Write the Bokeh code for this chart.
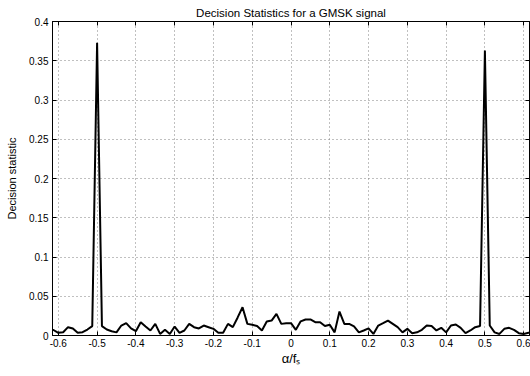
from bokeh.plotting import figure
from bokeh.models import FixedTicker, LinearAxis, Range1d
from bokeh.embed import file_html
from bokeh.resources import INLINE

# cyclic frequency alpha / fs
alpha = [-0.625, -0.6125, -0.6, -0.5875, -0.575, -0.5625, -0.55, -0.5375, -0.525, -0.5125,
         -0.5, -0.4875, -0.475, -0.4625, -0.45, -0.4375, -0.425, -0.4125, -0.4, -0.3875,
         -0.375, -0.3625, -0.35, -0.3375, -0.325, -0.3125, -0.3, -0.2875, -0.275, -0.2625,
         -0.25, -0.2375, -0.225, -0.2125, -0.2, -0.1875, -0.175, -0.1625, -0.15, -0.1375,
         -0.125, -0.1125, -0.1, -0.0875, -0.075, -0.0625, -0.05, -0.0375, -0.025, -0.0125,
         0.0, 0.0125, 0.025, 0.0375, 0.05, 0.0625, 0.075, 0.0875, 0.1, 0.1125,
         0.125, 0.1375, 0.15, 0.1625, 0.175, 0.1875, 0.2, 0.2125, 0.225, 0.2375,
         0.25, 0.2625, 0.275, 0.2875, 0.3, 0.3125, 0.325, 0.3375, 0.35, 0.3625,
         0.375, 0.3875, 0.4, 0.4125, 0.425, 0.4375, 0.45, 0.4625, 0.475, 0.4875,
         0.5, 0.5125, 0.525, 0.5375, 0.55, 0.5625, 0.575, 0.5875, 0.6, 0.6125, 0.625]

# decision statistic
stat = [0.008, 0.007, 0.0034, 0.0042, 0.0106, 0.009, 0.0034, 0.0042, 0.0076, 0.012,
        0.373, 0.012, 0.0076, 0.0055, 0.004, 0.0127, 0.0157, 0.009, 0.0055, 0.017,
        0.0115, 0.0064, 0.0148, 0.002, 0.0072, 0.002, 0.0114, 0.0034, 0.0064, 0.0148,
        0.0106, 0.009, 0.0127, 0.0106, 0.0085, 0.0034, 0.0034, 0.0148, 0.0106, 0.023,
        0.036, 0.0148, 0.0136, 0.012, 0.0064, 0.0178, 0.019, 0.0275, 0.0148, 0.0157,
        0.0157, 0.0072, 0.018, 0.0204, 0.0204, 0.017, 0.017, 0.012, 0.0136, 0.004,
        0.0305, 0.0148, 0.0148, 0.0115, 0.004, 0.0064, 0.009, 0.002, 0.0127, 0.0157,
        0.019, 0.0148, 0.0106, 0.004, 0.0085, 0.003, 0.004, 0.0072, 0.0127, 0.012,
        0.0064, 0.0098, 0.004, 0.0127, 0.014, 0.0098, 0.003, 0.0064, 0.0106, 0.012,
        0.363, 0.0127, 0.004, 0.002, 0.0085, 0.0098, 0.0072, 0.003, 0.002, 0.0034, 0.004]

x_ticks = [-0.6, -0.5, -0.4, -0.3, -0.2, -0.1, 0.0, 0.1, 0.2, 0.3, 0.4, 0.5, 0.6]
x_tick_labels = ["-0.6", "-0.5", "-0.4", "-0.3", "-0.2", "-0.1", "0", "0.1", "0.2", "0.3", "0.4", "0.5", "0.6"]
y_ticks = [0.0, 0.05, 0.1, 0.15, 0.2, 0.25, 0.3, 0.35, 0.4]
y_tick_labels = ["0", "0.05", "0.1", "0.15", "0.2", "0.25", "0.3", "0.35", "0.4"]

FONT = "Liberation Sans"

p = figure(width=530, height=376, output_backend="svg", toolbar_location=None,
           x_range=Range1d(-0.615, 0.615), y_range=Range1d(0, 0.4),
           min_border_left=52, min_border_right=1, min_border_top=21, min_border_bottom=41,
           title="Decision Statistics for a GMSK signal")
p.background_fill_color = "white"
p.border_fill_color = "white"
p.outline_line_color = "black"
p.outline_line_width = 1

p.title.text_font = FONT
p.title.text_font_size = "11.5px"
p.title.text_font_style = "normal"
p.title.text_color = "black"
p.title.align = "center"
p.title.standoff = 6

p.line(alpha, stat, line_color="black", line_width=2)

xt = FixedTicker(ticks=x_ticks)
yt = FixedTicker(ticks=y_ticks)

for ax, ticks, labels in ((p.xaxis[0], xt, dict(zip(x_ticks, x_tick_labels))),
                          (p.yaxis[0], yt, dict(zip(y_ticks, y_tick_labels)))):
    ax.ticker = ticks
    ax.major_label_overrides = labels
    ax.major_label_text_font = FONT
    ax.major_label_text_font_size = "10px"
    ax.major_label_text_color = "black"
    ax.major_tick_in = 4
    ax.major_tick_out = 0
    ax.major_tick_line_color = "black"
    ax.minor_tick_line_color = None
    ax.axis_line_color = "black"
    ax.axis_label_text_font = FONT
    ax.axis_label_text_font_style = "normal"
    ax.axis_label_text_color = "black"

p.xaxis[0].major_label_standoff = 3
p.yaxis[0].major_label_standoff = 4
p.xaxis[0].axis_label = "α/fₛ"
p.xaxis[0].axis_label_text_font_size = "13px"
p.xaxis[0].axis_label_standoff = 1
p.yaxis[0].axis_label = "Decision statistic"
p.yaxis[0].axis_label_text_font_size = "11px"
p.yaxis[0].axis_label_standoff = 8

right = LinearAxis(ticker=FixedTicker(ticks=y_ticks), major_label_text_font_size="1px",
                   major_label_text_color=None,
                   major_tick_in=4, major_tick_out=0, major_label_standoff=0,
                   minor_tick_line_color=None, axis_line_color="black",
                   major_tick_line_color="black")
p.add_layout(right, "right")
top = LinearAxis(ticker=FixedTicker(ticks=x_ticks), major_label_text_font_size="1px",
                 major_label_text_color=None,
                 major_tick_in=4, major_tick_out=0, major_label_standoff=0,
                 minor_tick_line_color=None, axis_line_color="black",
                 major_tick_line_color="black")
p.add_layout(top, "above")

for g, t in ((p.xgrid[0], x_ticks), (p.ygrid[0], y_ticks)):
    g.ticker = FixedTicker(ticks=t)
    g.grid_line_color = "#808080"
    g.grid_line_dash = "1 3"
    g.grid_line_width = 1

open("out.html", "w").write(file_html(p, INLINE))
